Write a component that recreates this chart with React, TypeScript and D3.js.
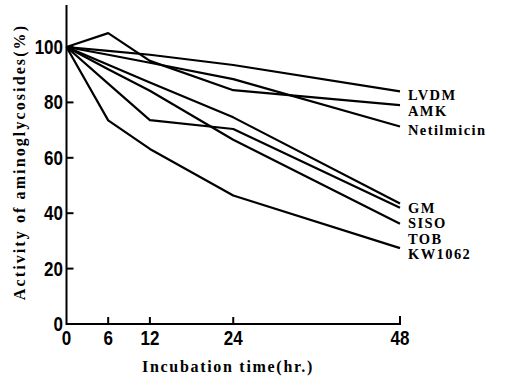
import React, { useEffect, useRef } from "react";
import * as d3 from "d3";

// incubation times (hr.)
const times = [0, 6, 12, 24, 48];

// activity (%) per drug, one value per time point
const drugNames = ["LVDM", "AMK", "Netilmicin", "GM", "SISO", "TOB", "KW1062"];
const lvdm = [100, 98.6, 97.2, 93.5, 84];
const amk = [100, 105, 95, 84.4, 79];
const netilmicin = [100, 97.2, 94.3, 88.4, 71.3];
const gm = [100, 93.6, 87.2, 74.6, 43.5];
const siso = [100, 86.8, 73.6, 70.4, 42];
const tob = [100, 92, 84.2, 66.5, 36.2];
const kw1062 = [100, 73.5, 63.2, 46.4, 27.4];

const xTicks = [0, 6, 12, 24, 48];
const yTicks = [0, 20, 40, 60, 80, 100];

const App = () => {
  const ref = useRef<SVGSVGElement | null>(null);

  useEffect(() => {
    draw();
  });

  let draw = () => {
    let svg = d3.select(ref.current);
    svg.selectAll("*").remove();

    let x = d3.scaleLinear().domain([0, 48]).range([66.5, 400]);
    let y = d3.scaleLinear().domain([0, 100]).range([324, 47]);

    let series = [lvdm, amk, netilmicin, gm, siso, tob, kw1062];

    let line = d3
      .line<number>()
      .x((d, i) => x(times[i]))
      .y((d) => y(d));

    // axes
    svg
      .append("path")
      .attr("d", `M${x(0)},5V${y(0)}H${x(48)}V${y(0) - 8}`)
      .attr("fill", "none")
      .attr("stroke", "#000")
      .attr("stroke-width", 2);

    svg
      .selectAll(".ytick")
      .data(yTicks.filter((d) => d > 0))
      .enter()
      .append("line")
      .attr("x1", x(0))
      .attr("x2", x(0) + 7)
      .attr("y1", (d) => y(d))
      .attr("y2", (d) => y(d))
      .attr("stroke", "#000")
      .attr("stroke-width", 2);

    svg
      .selectAll(".xtick")
      .data(xTicks.filter((d) => d > 0 && d < 48))
      .enter()
      .append("line")
      .attr("x1", (d) => x(d))
      .attr("x2", (d) => x(d))
      .attr("y1", y(0))
      .attr("y2", y(0) - 7)
      .attr("stroke", "#000")
      .attr("stroke-width", 2);

    let tickFont = "'Liberation Sans', Arial, sans-serif";

    svg
      .selectAll(".ylabel")
      .data(yTicks)
      .enter()
      .append("text")
      .attr("transform", (d) => `translate(63,${y(d)}) scale(0.85,1)`)
      .attr("text-anchor", "end")
      .attr("dominant-baseline", "central")
      .attr("font-family", tickFont)
      .attr("font-weight", "bold")
      .attr("font-size", 20)
      .text((d) => d);

    svg
      .selectAll(".xlabel")
      .data(xTicks)
      .enter()
      .append("text")
      .attr("transform", (d) => `translate(${x(d)},345) scale(0.85,1)`)
      .attr("text-anchor", "middle")
      .attr("font-family", tickFont)
      .attr("font-weight", "bold")
      .attr("font-size", 20)
      .text((d) => d);

    let serif = "'Liberation Serif', 'Times New Roman', serif";

    svg
      .append("text")
      .attr("x", 228)
      .attr("y", 372)
      .attr("text-anchor", "middle")
      .attr("font-family", serif)
      .attr("font-weight", "bold")
      .attr("font-size", 16)
      .attr("letter-spacing", 1.7)
      .text("Incubation time(hr.)");

    svg
      .append("text")
      .attr("transform", "translate(25,162) rotate(-90)")
      .attr("text-anchor", "middle")
      .attr("font-family", serif)
      .attr("font-weight", "bold")
      .attr("font-size", 16)
      .attr("letter-spacing", 2.1)
      .text("Activity of aminoglycosides(%)");

    // curves
    series.forEach((s) => {
      svg
        .append("path")
        .attr("d", line(s))
        .attr("fill", "none")
        .attr("stroke", "#000")
        .attr("stroke-width", 2.2)
        .attr("stroke-linejoin", "round");
    });

    // end labels, pushed apart so they don't overlap
    let ends = series
      .map((s, i) => ({ name: drugNames[i], ly: y(s[s.length - 1]) + 4 }))
      .sort((a, b) => a.ly - b.ly);
    for (let i = 1; i < ends.length; i++) {
      ends[i].ly = Math.max(ends[i].ly, ends[i - 1].ly + 15.5);
    }

    svg
      .selectAll(".endlabel")
      .data(ends)
      .enter()
      .append("text")
      .attr("x", 408)
      .attr("y", (d) => d.ly)
      .attr("dominant-baseline", "central")
      .attr("font-family", serif)
      .attr("font-weight", "bold")
      .attr("font-size", 14.5)
      .attr("letter-spacing", 1.4)
      .text((d) => d.name);
  };

  return (
    <svg
      ref={ref}
      width={505}
      height={377}
      style={{ position: "absolute", left: 0, top: 0, background: "#fff" }}
    ></svg>
  );
};

export default App;
